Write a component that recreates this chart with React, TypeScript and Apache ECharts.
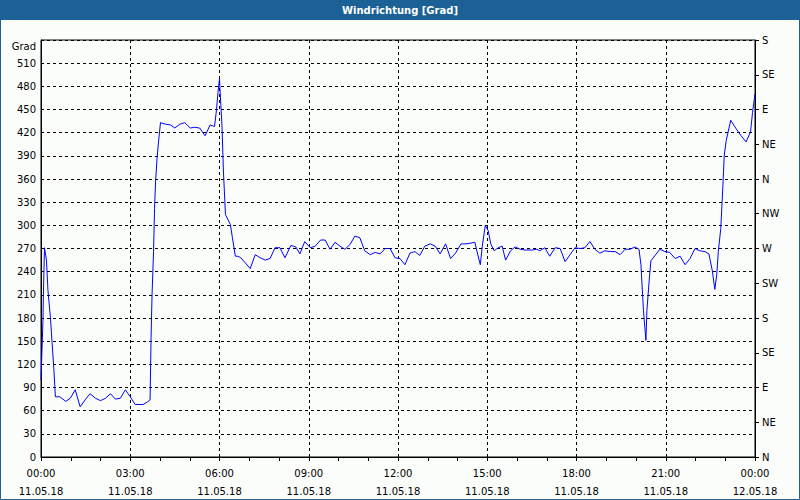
import React, { useEffect, useRef } from "react";
import * as echarts from "echarts";

// time in minutes after 11.05.18 00:00
const minutes = [
  0, 2, 4, 5, 7, 11, 14, 19, 22, 26, 29, 38, 50, 59, 69, 79, 89, 99, 110, 120,
  130, 140, 150, 160, 170, 180, 190, 206, 214, 220, 222, 224, 227, 229, 231, 234,
  237, 241, 251, 261, 270, 280, 290, 301, 310, 320, 331, 341, 350, 354, 357, 360,
  361, 365, 368, 372, 382, 386, 392, 397, 403, 422, 432, 442, 452, 462, 472, 482,
  492, 504, 514, 522, 532, 543, 553, 564, 573, 583, 593, 603, 613, 623, 633, 643,
  653, 664, 674, 684, 694, 704, 714, 724, 734, 744, 754, 764, 774, 785, 795, 805,
  816, 826, 836, 847, 857, 867, 875, 879, 886, 890, 896, 902, 907, 914, 922, 930,
  937, 947, 956, 967, 976, 990, 1000, 1006, 1016, 1026, 1037, 1047, 1057, 1067,
  1077, 1087, 1097, 1107, 1117, 1127, 1137, 1148, 1158, 1168, 1178, 1188, 1198,
  1206, 1210, 1215, 1220, 1222, 1226, 1230, 1248, 1258, 1268, 1279, 1289, 1299,
  1309, 1319, 1329, 1339, 1347, 1354, 1359, 1363, 1366, 1371, 1375, 1378, 1382,
  1391, 1402, 1412, 1422, 1431, 1435, 1440,
];

// wind direction in degrees
const direction = [
  100, 139, 177, 215, 271, 255, 216, 181, 151, 113, 78, 78, 72, 76, 87, 65, 74, 82, 76, 73,
  76, 82, 75, 76, 87, 78, 68, 68, 71, 74, 155, 211, 266, 322, 356, 386,
  408, 433, 431, 430, 426, 431, 433, 426, 427, 426, 416, 430, 428, 450, 472, 490,
  476, 429, 369, 314, 301, 284, 260, 260, 258, 244, 262, 258, 255, 257, 271, 271,
  258, 274, 272, 263, 279, 271, 273, 281, 281, 269, 278, 273, 269, 275, 286, 284,
  267, 262, 265, 263, 270, 270, 258, 257, 249, 264, 266, 261, 273, 276, 273, 263,
  276, 257, 264, 276, 276, 277, 278, 267, 249, 273, 300, 293, 276, 267, 271, 273,
  255, 267, 272, 269, 268, 268, 269, 267, 271, 260, 271, 270, 253, 262,
  271, 270, 271, 279, 269, 264, 267, 266, 266, 262, 269, 269, 272,
  269, 249, 190, 151, 190, 224, 254, 269, 266, 265, 257, 260, 249,
  257, 270, 267, 266, 263, 241, 217, 237, 266, 296, 348, 391, 410,
  436, 425, 416, 408, 421, 446, 470,
];

const compassLabels = ["N", "NE", "E", "SE", "S", "SW", "W", "NW", "N", "NE", "E", "SE", "S"];
const startDate = "11.05.18";
const endDate = "12.05.18";
const titleText = "Windrichtung [Grad]";
const unitLabel = "Grad";

const pad = (n: number) => (n < 10 ? "0" + n : "" + n);

export default function App() {
  const ref = useRef<HTMLDivElement>(null);
  useEffect(() => {
    if (!ref.current) return;
    const chart = echarts.init(ref.current, null, { renderer: "svg" });
    const font = "DejaVu Sans";
    const data = minutes.map((m, i) => [m, direction[i]]);
    chart.setOption({
      animation: false,
      backgroundColor: "#fbfdfb",
      textStyle: { fontFamily: font },
      graphic: [
        { type: "rect", shape: { x: 0, y: 0, width: 800, height: 20 }, style: { fill: "#1c6195" }, z: 10 },
        {
          type: "rect",
          shape: { x: 0.5, y: 0.5, width: 799, height: 499 },
          style: { fill: "none", stroke: "#1c6195", lineWidth: 1 },
          z: 10,
        },
        {
          type: "text",
          x: 400,
          y: 10,
          style: {
            text: titleText,
            fill: "#ffffff",
            font: `bold 10px ${font}`,
            align: "center",
            verticalAlign: "middle",
          },
          z: 11,
        },
      ],
      grid: {
        left: 41,
        right: 45,
        top: 40,
        bottom: 39,
        show: true,
        borderColor: "#000",
        borderWidth: 1,
        backgroundColor: "transparent",
      },
      xAxis: {
        type: "value",
        min: 0,
        max: 1440,
        interval: 180,
        axisLine: { show: true, onZero: false, lineStyle: { color: "#000", width: 1 } },
        axisTick: { show: true, length: 4, lineStyle: { color: "#000" } },
        minorTick: { show: true, splitNumber: 3, length: 4, lineStyle: { color: "#000" } },
        splitLine: { show: true, lineStyle: { color: "#000", type: [3, 3], width: 1 } },
        axisLabel: {
          color: "#000",
          fontSize: 10,
          fontFamily: font,
          lineHeight: 18,
          margin: 7,
          showMinLabel: true,
          showMaxLabel: true,
          formatter: (v: number) => {
            const h = Math.floor(v / 60) % 24;
            const mm = v % 60;
            return `${pad(h)}:${pad(mm)}\n${v >= 1440 ? endDate : startDate}`;
          },
        },
      },
      yAxis: [
        {
          type: "value",
          min: 0,
          max: 540,
          interval: 30,
          position: "left",
          axisLine: { show: true, lineStyle: { color: "#000" } },
          axisTick: { show: false },
          splitLine: { show: true, lineStyle: { color: "#000", type: [3, 3], width: 1 } },
          axisLabel: {
            color: "#000",
            fontSize: 10,
            fontFamily: font,
            margin: 5,
            showMaxLabel: true,
            formatter: (v: number) => (v === 540 ? `{g|${unitLabel}}` : String(v)),
            rich: { g: { fontSize: 10, fontFamily: font, color: "#000", padding: [12, 0, 0, 0] } },
          },
        },
        {
          type: "value",
          min: 0,
          max: 540,
          interval: 45,
          position: "right",
          axisLine: { show: true, lineStyle: { color: "#000" } },
          axisTick: { show: true, length: 4, inside: false, lineStyle: { color: "#000" } },
          splitLine: { show: false },
          axisLabel: {
            color: "#000",
            fontSize: 10,
            fontFamily: font,
            margin: 7,
            padding: [4, 0, 0, 0],
            showMaxLabel: true,
            formatter: (v: number) => compassLabels[Math.round(v / 45)] ?? "",
          },
        },
      ],
      series: [
        {
          type: "line",
          data,
          yAxisIndex: 0,
          showSymbol: false,
          symbol: "none",
          lineStyle: { color: "#0000ff", width: 1 },
        },
      ],
    });
    return () => chart.dispose();
  }, []);
  return (
    <div
      ref={ref}
      style={{ position: "fixed", left: 0, top: 0, width: 800, height: 500 }}
    />
  );
}
